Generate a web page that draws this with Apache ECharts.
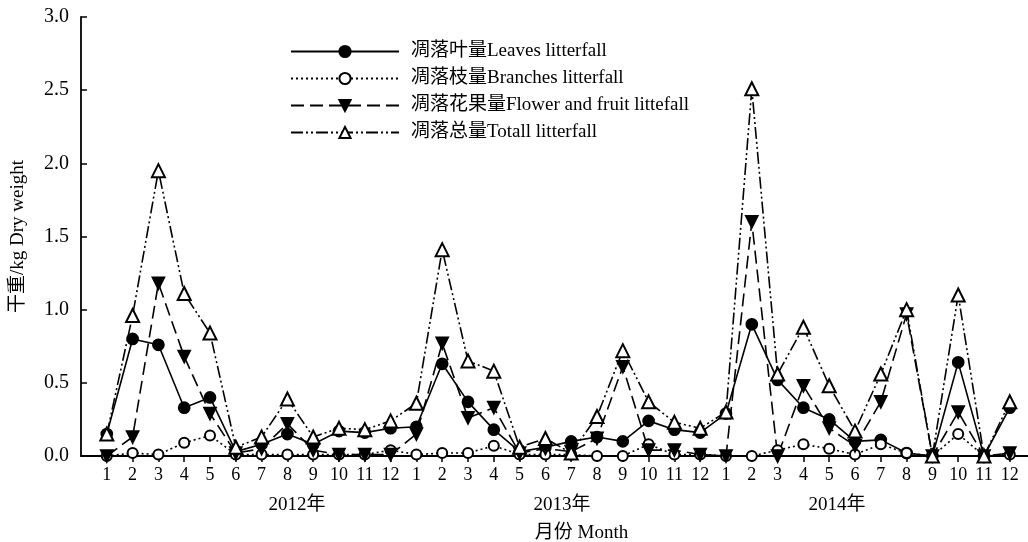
<!DOCTYPE html>
<html>
<head>
<meta charset="utf-8">
<script src="https://cdn.jsdelivr.net/npm/echarts@6/dist/echarts.min.js"></script>
<style>
  html, body { margin: 0; background: #fff; }
  #main { width: 1028px; height: 542px; }
</style>
</head>
<body>
<div id="main"></div>
<script>
// 年份、月份
const years = ['2012', '2013', '2014']
const monthLabels = ['1', '2', '3', '4', '5', '6', '7', '8', '9', '10', '11', '12']
// 年份标签所在位置（类目序号）
const yearPos = [8.37, 18.64, 29.3]
const yearLabels = ['2012年', '2013年', '2014年']

// 凋落叶量
const leaves = [0.15, 0.80, 0.76, 0.33, 0.40, 0.03, 0.08, 0.15, 0.08, 0.17, 0.16, 0.19,
  0.20, 0.63, 0.37, 0.18, 0.03, 0.06, 0.10, 0.13, 0.10, 0.24, 0.18, 0.16,
  0.29, 0.90, 0.52, 0.33, 0.25, 0.10, 0.11, 0.02, 0.00, 0.64, 0.00, 0.33]
// 凋落枝量
const branches = [0.00, 0.02, 0.01, 0.09, 0.14, 0.01, 0.01, 0.01, 0.01, 0.01, 0.01, 0.04,
  0.01, 0.02, 0.02, 0.07, 0.01, 0.01, 0.01, 0.00, 0.00, 0.08, 0.01, 0.01,
  0.00, 0.00, 0.04, 0.08, 0.05, 0.01, 0.08, 0.02, 0.00, 0.15, 0.00, 0.01]
// 凋落花果量
const flowers = [0.00, 0.13, 1.18, 0.68, 0.29, 0.02, 0.05, 0.22, 0.04, 0.01, 0.01, 0.01,
  0.15, 0.77, 0.26, 0.33, 0.02, 0.05, 0.03, 0.12, 0.61, 0.04, 0.04, 0.01,
  0.00, 1.60, 0.00, 0.48, 0.19, 0.07, 0.37, 0.97, 0.00, 0.30, 0.00, 0.02]
// 凋落总量
const total = [0.15, 0.96, 1.95, 1.11, 0.84, 0.06, 0.13, 0.39, 0.13, 0.19, 0.18, 0.24,
  0.36, 1.41, 0.65, 0.58, 0.06, 0.12, 0.02, 0.27, 0.72, 0.37, 0.23, 0.19,
  0.30, 2.51, 0.56, 0.88, 0.48, 0.17, 0.56, 1.00, 0.00, 1.10, 0.00, 0.37]

const names = ['凋落叶量Leaves litterfall', '凋落枝量Branches litterfall',
  '凋落花果量Flower and fruit littefall', '凋落总量Totall litterfall']

const FONT = '"Liberation Serif", "Noto Sans CJK SC", serif'

// 类目：首尾各空一格
const categories = ['']
years.forEach(y => monthLabels.forEach(m => categories.push(y + '-' + m)))
categories.push(' ')
const pad = arr => [null, ...arr, null]

function makeSeries(name, data, symbol, size, dash, extra) {
  return Object.assign({
    name,
    type: 'line',
    data: pad(data),
    symbol,
    symbolSize: size,
    showAllSymbol: true,
    connectNulls: false,
    lineStyle: { color: '#000', width: 1.6, type: dash },
    itemStyle: { color: '#000', borderColor: '#000', borderWidth: 1.7 }
  }, extra || {})
}

const option = {
  animation: false,
  backgroundColor: '#fff',
  grid: { left: 81, top: 17, right: -7.6, bottom: 86, containLabel: false, outerBoundsMode: 'none' },
  legend: {
    orient: 'vertical',
    left: 290,
    top: 42,
    padding: 0,
    itemWidth: 108,
    itemHeight: 14,
    itemGap: 8,
    data: names,
    textStyle: { fontFamily: FONT, fontSize: 19, lineHeight: 19, color: '#000', padding: [0, 0, 0, 7] }
  },
  xAxis: {
    type: 'category',
    boundaryGap: false,
    data: categories,
    axisLine: { lineStyle: { color: '#000', width: 1.8 } },
    axisTick: {
      length: 6,
      lineStyle: { color: '#000', width: 1.5 },
      interval: (i) => i > 0 && i < categories.length - 1
    },
    axisLabel: {
      interval: 0,
      margin: 10,
      color: '#000',
      fontFamily: FONT,
      fontSize: 18,
      formatter: v => (v.split('-')[1] || '')
    },
    splitLine: { show: false }
  },
  yAxis: {
    type: 'value',
    min: 0,
    max: 3,
    interval: 0.5,
    name: '干重/kg Dry weight',
    nameLocation: 'middle',
    nameGap: 53,
    nameTextStyle: { fontFamily: FONT, fontSize: 19, color: '#000' },
    axisLine: { show: true, lineStyle: { color: '#000', width: 1.8 } },
    axisTick: { show: true, inside: true, length: 6, lineStyle: { color: '#000', width: 1.5 } },
    axisLabel: {
      margin: 12,
      color: '#000',
      fontFamily: FONT,
      fontSize: 20,
      formatter: v => v.toFixed(1)
    },
    splitLine: { show: false }
  },
  series: [
    makeSeries(names[0], leaves, 'circle', 11, 'solid'),
    makeSeries(names[1], branches, 'emptyCircle', 10, [2, 3]),
    makeSeries(names[2], flowers, 'triangle', 12, [13, 6], { symbolRotate: 180 }),
    makeSeries(names[3], total, 'emptyTriangle', 13, [12, 3, 2, 3, 2, 3])
  ]
}

const chart = echarts.init(document.getElementById('main'))
chart.setOption(option)

// 年份及坐标轴名称，按类目轴位置放置
const p0 = chart.convertToPixel({ xAxisIndex: 0 }, 0)
const p1 = chart.convertToPixel({ xAxisIndex: 0 }, 1)
const toX = pos => p0 + pos * (p1 - p0)
const graphic = yearLabels.map((t, i) => ({
  type: 'text',
  x: toX(yearPos[i]),
  y: 505,
  style: { text: t, fontFamily: FONT, fontSize: 19, fill: '#000', align: 'center', verticalAlign: 'middle' }
}))
graphic.push({
  type: 'text',
  x: toX(19.4),
  y: 533,
  style: { text: '月份 Month', fontFamily: FONT, fontSize: 19, fill: '#000', align: 'center', verticalAlign: 'middle' }
})
chart.setOption({ graphic })
</script>
</body>
</html>
